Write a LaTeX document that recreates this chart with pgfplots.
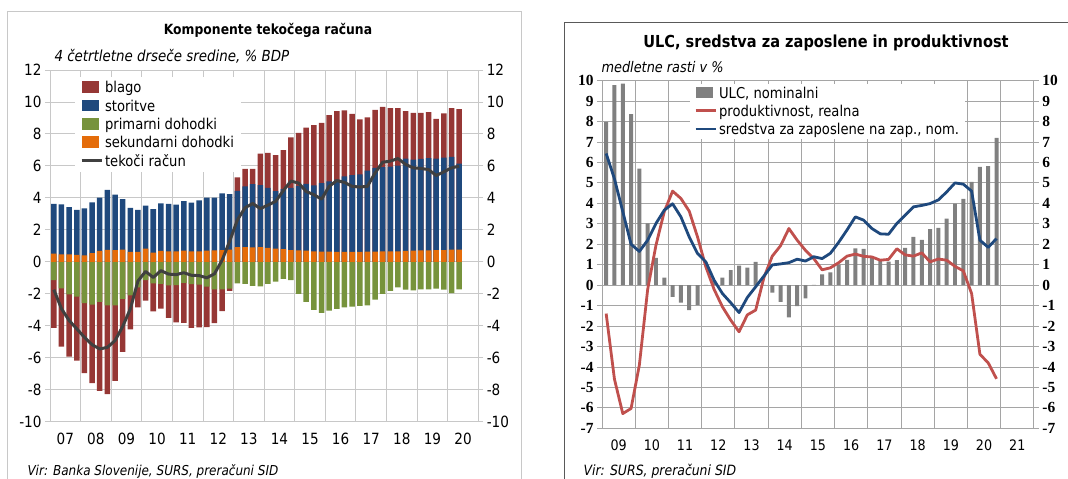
\documentclass[border=0pt]{standalone}
\usepackage{fontspec}
\setmainfont{DejaVu Sans}[FakeStretch=0.88]
\newfontfamily\serifnum{Liberation Serif}
\usepackage{pgfplots}
\usepackage{pgfplotstable}
\pgfplotsset{compat=1.18}
\definecolor{cBlago}{RGB}{150,55,53}
\definecolor{cStor}{RGB}{31,73,125}
\definecolor{cPrim}{RGB}{119,147,60}
\definecolor{cSek}{RGB}{228,108,10}
\definecolor{cCur}{RGB}{64,64,64}
\definecolor{gridL}{RGB}{200,200,200}
\definecolor{zeroL}{RGB}{150,150,150}
\definecolor{gridR}{RGB}{165,165,165}
\definecolor{cULC}{RGB}{128,128,128}
\definecolor{cProd}{RGB}{192,80,77}
\definecolor{cSred}{RGB}{31,73,125}

\pgfplotstableread{
x sek blu rpos grn rneg cur
0.5 0.52 3.63 nan -1.15 -4.13 -1.74
1.5 0.46 3.60 nan -1.66 -5.30 -2.93
2.5 0.47 3.42 nan -2.03 -5.93 -3.67
3.5 0.43 3.25 nan -2.18 -6.18 -4.19
4.5 0.41 3.35 nan -2.58 -6.96 -4.72
5.5 0.55 3.72 nan -2.68 -7.58 -5.18
6.5 0.68 4.02 nan -2.50 -8.07 -5.45
7.5 0.75 4.50 nan -2.72 -8.28 -5.35
8.5 0.73 4.21 nan -2.72 -7.44 -4.93
9.5 0.77 3.92 nan -2.32 -5.63 -4.05
10.5 0.62 3.38 nan -2.10 -4.22 -2.95
11.5 0.62 3.25 nan -1.60 -2.85 -1.20
12.5 0.82 3.52 nan -1.15 -2.43 -0.60
13.5 0.58 3.29 nan -1.35 -3.10 -0.98
14.5 0.68 3.65 nan -1.38 -2.92 -0.55
15.5 0.66 3.62 nan -1.48 -3.50 -0.77
16.5 0.66 3.58 nan -1.45 -3.78 -0.80
17.5 0.70 3.80 nan -1.32 -3.82 -0.68
18.5 0.66 3.70 nan -1.40 -4.13 -0.84
19.5 0.66 3.84 nan -1.42 -4.10 -0.86
20.5 0.70 4.02 nan -1.55 -4.09 -1.00
21.5 0.72 4.02 nan -1.72 -3.84 -0.75
22.5 0.74 4.28 nan -1.72 -3.08 0.10
23.5 0.76 4.23 nan -1.68 -1.82 1.30
24.5 0.92 4.44 5.28 -1.35 nan 2.62
25.5 0.92 4.72 5.81 -1.38 nan 3.38
26.5 0.90 4.86 5.81 -1.50 nan 3.65
27.5 0.92 4.80 6.77 -1.53 nan 3.33
28.5 0.88 4.63 6.81 -1.38 nan 3.55
29.5 0.82 4.42 6.67 -1.24 nan 3.78
30.5 0.80 4.55 6.98 -1.07 nan 4.45
31.5 0.74 4.62 7.78 -1.15 nan 5.05
32.5 0.72 4.75 8.07 -2.00 nan 4.93
33.5 0.70 4.88 8.39 -2.50 nan 4.40
34.5 0.66 4.78 8.55 -3.00 nan 4.20
35.5 0.64 4.93 8.70 -3.20 nan 3.92
36.5 0.64 5.03 9.18 -3.05 nan 4.72
37.5 0.62 5.14 9.43 -2.94 nan 5.08
38.5 0.62 5.35 9.48 -2.85 nan 4.97
39.5 0.62 5.43 9.25 -2.80 nan 4.72
40.5 0.62 5.47 8.91 -2.75 nan 4.68
41.5 0.64 5.70 9.04 -2.72 nan 4.72
42.5 0.64 5.87 9.50 -2.37 nan 5.56
43.5 0.66 5.93 9.69 -2.00 nan 6.23
44.5 0.66 5.95 9.62 -1.82 nan 6.30
45.5 0.66 6.02 9.62 -1.60 nan 6.46
46.5 0.68 6.46 9.43 -1.74 nan 6.09
47.5 0.70 6.39 9.31 -1.78 nan 5.88
48.5 0.72 6.44 9.31 -1.72 nan 5.84
49.5 0.72 6.48 9.37 -1.72 nan 5.77
50.5 0.74 6.46 8.95 -1.68 nan 5.40
51.5 0.74 6.52 9.29 -1.74 nan 5.63
52.5 0.76 6.56 9.62 -1.95 nan 5.88
53.5 0.76 6.14 9.56 -1.72 nan 5.98
}\leftdata

\pgfplotstableread{
x ulc prod sred
0.5 7.99 -1.39 6.44
1.5 9.78 -4.60 5.20
2.5 9.86 -6.28 3.60
3.5 8.36 -6.03 2.00
4.5 5.70 -3.90 1.65
5.5 3.02 -0.20 2.20
6.5 1.34 1.96 3.02
7.5 0.37 3.60 3.67
8.5 -0.57 4.60 3.98
9.5 -0.85 4.24 3.34
10.5 -1.22 3.62 2.36
11.5 -0.98 2.36 1.55
12.5 0.02 0.90 1.14
13.5 0.24 -0.21 0.24
14.5 0.37 -1.06 -0.41
15.5 0.73 -1.71 -0.86
16.5 0.96 -2.28 -1.34
17.5 0.86 -1.45 -0.60
18.5 1.14 -1.22 -0.08
19.5 0.02 0.38 0.45
20.5 -0.37 1.42 0.99
21.5 -0.82 1.93 1.04
22.5 -1.58 2.77 1.10
23.5 -1.03 2.20 1.27
24.5 -0.65 1.70 1.18
25.5 0.02 1.30 1.39
26.5 0.53 0.75 1.30
27.5 0.62 0.85 1.56
28.5 1.00 1.10 2.10
29.5 1.24 1.42 2.70
30.5 1.80 1.52 3.34
31.5 1.77 1.41 3.18
32.5 1.38 1.38 2.77
33.5 1.20 1.22 2.51
34.5 1.15 1.26 2.49
35.5 1.22 1.78 3.02
36.5 1.83 1.48 3.42
37.5 2.36 1.42 3.83
38.5 2.22 1.58 3.90
39.5 2.74 1.14 3.99
40.5 2.80 1.28 4.17
41.5 3.26 1.22 4.56
42.5 3.99 0.92 5.00
43.5 4.22 0.70 4.94
44.5 5.05 -0.41 4.60
45.5 5.79 -3.38 2.20
46.5 5.82 -3.80 1.85
47.5 7.20 -4.58 2.28
}\rightdata

\newcommand{\tfs}{\fontsize{15.5}{17}\selectfont}
\pgfplotsset{
  barleg/.style={legend image code/.code={\fill[##1] (0bp,-5bp) rectangle (17bp,6.5bp);}},
  lineleg/.style={legend image code/.code={\draw[##1] (0bp,0.7bp) -- (20bp,0.7bp);}},
}

\begin{document}
\begin{tikzpicture}
\useasboundingbox (0,0) rectangle (1068bp,479bp);
% frames
\draw[gridL, line width=1bp] (7bp,-20bp) rectangle (521bp,467bp);
\draw[black!65, line width=0.8bp] (564bp,-20bp) rectangle (1100bp,457bp);
% titles
\node[font=\fontsize{14.1}{16}\selectfont\bfseries] at (268bp,449bp) {Komponente tekočega računa};
\node[font=\fontsize{15.3}{17}\selectfont\itshape, anchor=base west] at (51bp,417bp) {4 četrtletne drseče sredine, \% BDP};
\node[font=\fontsize{13.7}{15}\selectfont\itshape, anchor=base west] at (24bp,4bp) {Vir: Banka Slovenije, SURS, preračuni SID};
\node[font=\fontsize{16.6}{18}\selectfont\bfseries] at (826bp,436bp) {ULC, sredstva za zaposlene in produktivnost};
\node[font=\fontsize{14.7}{16}\selectfont\itshape, anchor=base west] at (598bp,406bp) {medletne rasti v \%};
\node[font=\fontsize{14.2}{15}\selectfont\itshape, anchor=base west] at (580bp,4bp) {Vir: SURS, preračuni SID};

% ---------- left chart ----------
\begin{axis}[
  at={(50bp,57.3bp)}, anchor=south west, scale only axis,
  width=428.3bp, height=351.7bp,
  xmin=0, xmax=56, ymin=-10, ymax=12,
  xtick={0,4,...,56}, x tick label as interval,
  xticklabels={07,08,09,10,11,12,13,14,15,16,17,18,19,20},
  ytick={-10,-8,...,12},
  grid=major, major grid style={gridL, line width=0.9bp},
  axis line style={gridL, line width=0.9bp},
  tick align=outside, major tick length=5bp,
  ytick style={gridL, line width=0.9bp}, xtick style={draw=none},
  yticklabel pos=left,
  tick label style={font=\tfs},
  xticklabel style={yshift=-3bp},
  /pgf/number format/assume math mode=true,
  extra y ticks={0}, extra y tick labels={},
  extra y tick style={grid style={zeroL, line width=1bp}, tick style={zeroL}},
  ybar, bar width=0.72, bar shift=0pt,
  legend style={at={(0.058,0.98)}, anchor=north west, draw=none, fill=white,
    font=\fontsize{15}{17}\selectfont, row sep=1.6bp, inner xsep=5bp, inner ysep=2bp,
    cells={anchor=west}},
]
\addplot[fill=cBlago, draw=none, barleg] table[x=x, y=rpos] {\leftdata};
\addlegendentry{blago}
\addplot[fill=cBlago, draw=none, forget plot] table[x=x, y=rneg] {\leftdata};
\addplot[fill=cStor, draw=none, barleg] table[x=x, y=blu] {\leftdata};
\addlegendentry{storitve}
\addplot[fill=cPrim, draw=none, barleg] table[x=x, y=grn] {\leftdata};
\addlegendentry{primarni dohodki}
\addplot[fill=cSek, draw=none, barleg] table[x=x, y=sek] {\leftdata};
\addlegendentry{sekundarni dohodki}
\addplot[sharp plot, cCur, line width=3bp, line join=round, lineleg] table[x=x, y=cur] {\leftdata};
\addlegendentry{tekoči račun}
\end{axis}
\begin{axis}[
  at={(50bp,57.3bp)}, anchor=south west, scale only axis,
  width=428.3bp, height=351.7bp,
  xmin=0, xmax=56, ymin=-10, ymax=12,
  ytick={-10,-8,...,12}, hide x axis, axis y line*=right,
  y axis line style={draw=none}, ytick style={draw=none},
  tick label style={font=\tfs}, yticklabel style={xshift=5bp},
  /pgf/number format/assume math mode=true,
]
\addplot[draw=none] coordinates {(0,0)};
\end{axis}

% ---------- right chart ----------
\begin{axis}[
  at={(602bp,50.7bp)}, anchor=south west, scale only axis,
  width=431.9bp, height=347.6bp,
  xmin=0, xmax=52, ymin=-7, ymax=10,
  xtick={0,4,...,52}, x tick label as interval,
  xticklabels={09,10,11,12,13,14,15,16,17,18,19,20,21},
  ytick={-7,-6,...,10},
  grid=major, major grid style={gridR, line width=0.9bp},
  axis line style={gridR, line width=0.9bp},
  tick align=outside, major tick length=5bp,
  ytick style={gridR, line width=0.9bp}, xtick style={draw=none},
  yticklabel pos=left,
  xticklabel style={font=\fontsize{14.5}{16}\selectfont, yshift=-3bp},
  yticklabel style={font=\serifnum\bfseries\fontsize{15.5}{16}\selectfont},
  /pgf/number format/assume math mode=true,
  ybar, bar width=0.48, bar shift=0pt,
  legend style={at={(0.204,0.992)}, anchor=north west, draw=none, fill=white,
    font=\fontsize{15}{17}\selectfont, row sep=1.5bp, inner xsep=4bp, inner ysep=1bp,
    cells={anchor=west}},
]
\addplot[fill=cULC, draw=none, barleg] table[x=x, y=ulc] {\rightdata};
\addlegendentry{ULC, nominalni}
\addplot[sharp plot, cProd, line width=2.8bp, line join=round, lineleg] table[x=x, y=prod] {\rightdata};
\addlegendentry{produktivnost, realna}
\addplot[sharp plot, cSred, line width=2.8bp, line join=round, lineleg] table[x=x, y=sred] {\rightdata};
\addlegendentry{sredstva za zaposlene na zap., nom.}
\end{axis}
\begin{axis}[
  at={(602bp,50.7bp)}, anchor=south west, scale only axis,
  width=431.9bp, height=347.6bp,
  xmin=0, xmax=52, ymin=-7, ymax=10,
  ytick={-7,-6,...,10}, hide x axis, axis y line*=right,
  y axis line style={draw=none}, ytick style={draw=none},
  yticklabel style={font=\serifnum\bfseries\fontsize{15.5}{16}\selectfont, xshift=5bp},
  /pgf/number format/assume math mode=true,
]
\addplot[draw=none] coordinates {(0,0)};
\end{axis}
\end{tikzpicture}
\end{document}
